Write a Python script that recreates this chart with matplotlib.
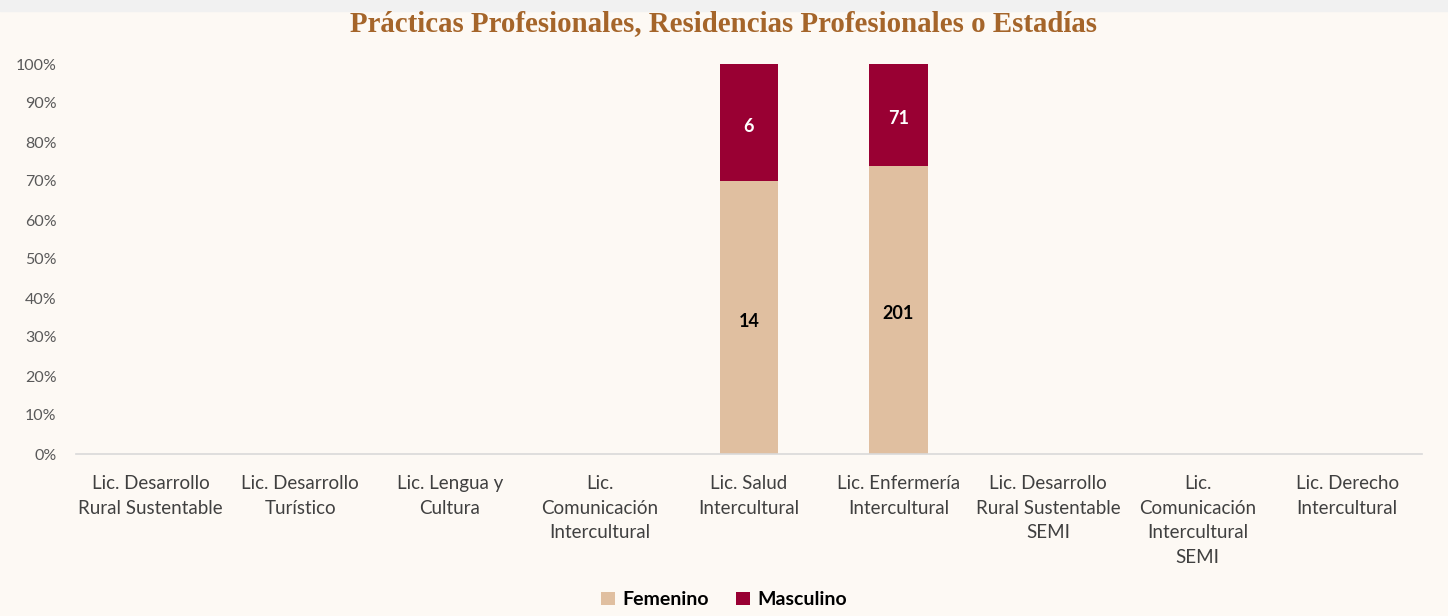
import numpy as np
import matplotlib.pyplot as plt
from matplotlib.patches import Rectangle

carreras = ['Lic. Desarrollo\nRural Sustentable', 'Lic. Desarrollo\nTurístico', 'Lic. Lengua y\nCultura',
            'Lic.\nComunicación\nIntercultural', 'Lic. Salud\nIntercultural', 'Lic. Enfermería\nIntercultural',
            'Lic. Desarrollo\nRural Sustentable\nSEMI', 'Lic.\nComunicación\nIntercultural\nSEMI',
            'Lic. Derecho\nIntercultural']
femenino = [0, 0, 0, 0, 14, 201, 0, 0, 0]
masculino = [0, 0, 0, 0, 6, 71, 0, 0, 0]

fem = np.array(femenino, dtype=float)
mas = np.array(masculino, dtype=float)
total = fem + mas
safe = np.where(total > 0, total, 1)
fem_pct = fem / safe * 100
mas_pct = mas / safe * 100

bg = '#FDF9F4'
c_fem = '#E0BFA0'
c_mas = '#990033'

plt.rcParams['font.family'] = ['Lato', 'DejaVu Sans']

fig = plt.figure(figsize=(14.48, 6.16), dpi=100)
fig.patch.set_facecolor(bg)
# light slide band on top
fig.patches.append(Rectangle((0, 0.982), 1, 0.018, transform=fig.transFigure, color='#F1F1F1', zorder=0))

ax = fig.add_axes([76 / 1448, (616 - 454) / 616, (1422 - 76) / 1448, (454 - 64) / 616])
ax.set_facecolor(bg)

x = np.arange(len(carreras))
w = 0.39
ax.bar(x, fem_pct, w, color=c_fem, label='Femenino', zorder=2)
ax.bar(x, mas_pct, w, bottom=fem_pct, color=c_mas, label='Masculino', zorder=2)

for i in range(len(carreras)):
    if fem[i] > 0:
        ax.text(x[i], fem_pct[i] / 2 - 1, str(femenino[i]), ha='center', va='center',
                fontsize=13, fontweight='bold', color='black')
    if mas[i] > 0:
        ax.text(x[i], fem_pct[i] + mas_pct[i] / 2 - 1, str(masculino[i]), ha='center', va='center',
                fontsize=13, fontweight='bold', color='white')

ax.set_xlim(-0.5, len(carreras) - 0.5)
ax.set_ylim(0, 100)
ax.set_yticks(np.arange(0, 101, 10))
ax.set_yticklabels([f'{v}%' for v in range(0, 101, 10)])
ax.set_xticks(x)
ax.set_xticklabels(carreras, fontsize=13.5, color='#404040', linespacing=1.55)
ax.tick_params(axis='y', labelsize=11.5, labelcolor='#595959', length=0, pad=14)
ax.tick_params(axis='x', length=0, pad=15)
for s in ['top', 'right', 'left']:
    ax.spines[s].set_visible(False)
ax.spines['bottom'].set_color('#D9D9D9')
ax.spines['bottom'].set_linewidth(1.2)

fig.text(0.5, 0.962, 'Prácticas Profesionales, Residencias Profesionales o Estadías',
         ha='center', va='center', fontsize=20.8, fontweight='bold', color='#A5652A',
         family='Liberation Serif')

leg = fig.legend(loc='center', bbox_to_anchor=(0.5, 0.026), ncol=2, frameon=False,
                 prop={'size': 14, 'weight': 'bold'}, handlelength=0.7, handleheight=0.7,
                 handletextpad=0.4, columnspacing=1.4)

fig.savefig('out.png', dpi=100, facecolor=bg)
